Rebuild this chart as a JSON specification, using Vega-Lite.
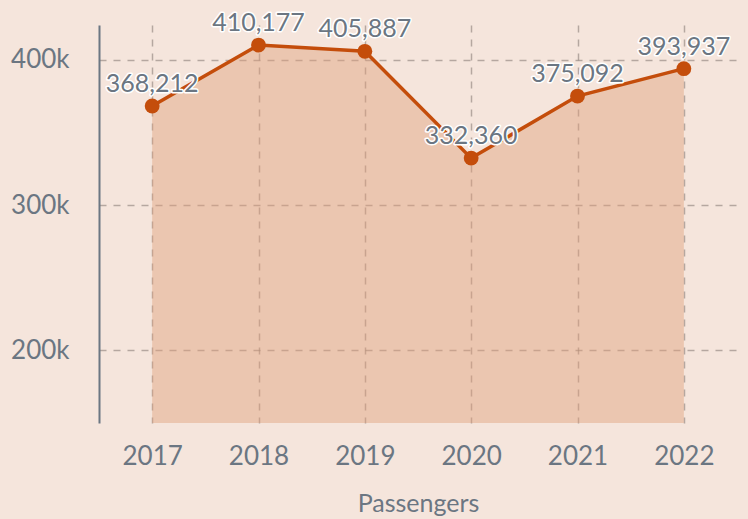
{
  "$schema": "https://vega.github.io/schema/vega-lite/v6.json",
  "width": 638,
  "height": 398,
  "autosize": "none",
  "padding": {"left": 99, "top": 25, "right": 11, "bottom": 96},
  "background": "#f5e5dc",
  "config": {
    "font": "Lato",
    "view": {"stroke": null},
    "axis": {
      "labelFont": "Lato", "titleFont": "Lato",
      "labelColor": "#6b7682", "titleColor": "#6b7682",
      "labelFontSize": 26, "titleFontSize": 25, "titleFontWeight": "normal",
      "gridColor": "#8a7d78", "gridOpacity": 0.6, "gridDash": [7, 7], "gridWidth": 1.5,
      "ticks": false
    }
  },
  "data": {
    "values": [
      {"year": "2017", "passengers": 368212},
      {"year": "2018", "passengers": 410177},
      {"year": "2019", "passengers": 405887},
      {"year": "2020", "passengers": 332360},
      {"year": "2021", "passengers": 375092},
      {"year": "2022", "passengers": 393937}
    ]
  },
  "encoding": {
    "x": {
      "field": "year", "type": "ordinal",
      "scale": {"type": "point", "padding": 0.5},
      "axis": {"title": "Passengers", "labelAngle": 0, "domain": false, "grid": true, "labelPadding": 20, "titlePadding": 22}
    },
    "y": {
      "field": "passengers", "type": "quantitative",
      "scale": {"domain": [150000, 424000], "nice": false, "zero": false},
      "axis": {"title": null, "values": [200000, 300000, 400000], "format": "~s", "domain": true, "domainColor": "#6b7682", "domainWidth": 2, "labelPadding": 30, "grid": true}
    }
  },
  "layer": [
    {"mark": {"type": "area", "color": "#e0a07a", "opacity": 0.45},
     "encoding": {"y2": {"datum": 150000}}},
    {"mark": {"type": "line", "color": "#c44d0b", "strokeWidth": 3.5}},
    {"mark": {"type": "point", "filled": true, "color": "#c44d0b", "size": 220, "opacity": 1}},
    {"mark": {"type": "text", "dy": -22, "fontSize": 25, "font": "Lato", "stroke": "white", "strokeWidth": 3, "strokeJoin": "round", "fill": "white"},
     "encoding": {"text": {"field": "passengers", "type": "quantitative", "format": ","}}},
    {"mark": {"type": "text", "dy": -22, "fontSize": 25, "font": "Lato", "fill": "#6b7682"},
     "encoding": {"text": {"field": "passengers", "type": "quantitative", "format": ","}}}
  ]
}
